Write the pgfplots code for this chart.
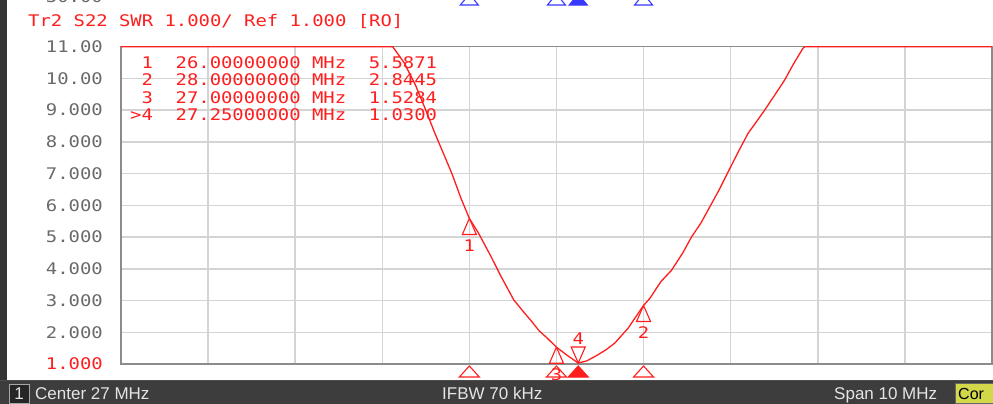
\documentclass[border=0pt]{standalone}
\usepackage{pgfplots}
\pgfplotsset{compat=1.18}
\usepackage{fontspec}
\setmainfont{Liberation Sans}
\newfontfamily\ena[FakeStretch=1.18]{DejaVu Sans Mono}
\definecolor{trc}{HTML}{FF1E1E}
\definecolor{gridc}{HTML}{D4D4D4}
\definecolor{framec}{HTML}{8C8C8C}
\definecolor{labc}{HTML}{6A6A6A}
\definecolor{barc}{HTML}{3D3D3D}
\definecolor{stripc}{HTML}{353535}
\definecolor{corc}{HTML}{D2D84A}
\definecolor{mblue}{HTML}{3838FF}
\definecolor{bartxt}{HTML}{E4E4E4}
\newcommand\enasize{\ena\fontsize{16}{18}\selectfont}
% marker on trace, apex at the point, pointing up
\pgfdeclareplotmark{mkup}{%
 \pgfpathmoveto{\pgfpoint{0pt}{0pt}}%
 \pgfpathlineto{\pgfpoint{-7pt}{-16pt}}%
 \pgfpathlineto{\pgfpoint{7pt}{-16pt}}%
 \pgfpathclose\pgfusepathqstroke}
% active marker, apex at the point, pointing down
\pgfdeclareplotmark{mkdown}{%
 \pgfpathmoveto{\pgfpoint{0pt}{0pt}}%
 \pgfpathlineto{\pgfpoint{-7pt}{16pt}}%
 \pgfpathlineto{\pgfpoint{7pt}{16pt}}%
 \pgfpathclose\pgfusepathqstroke}
% stimulus markers below the grid
\pgfdeclareplotmark{stimo}{%
 \pgfpathmoveto{\pgfpoint{0pt}{-2pt}}%
 \pgfpathlineto{\pgfpoint{-10pt}{-13pt}}%
 \pgfpathlineto{\pgfpoint{10pt}{-13pt}}%
 \pgfpathclose\pgfusepathqstroke}
\pgfdeclareplotmark{stimf}{%
 \pgfpathmoveto{\pgfpoint{0pt}{-2pt}}%
 \pgfpathlineto{\pgfpoint{-10pt}{-13pt}}%
 \pgfpathlineto{\pgfpoint{10pt}{-13pt}}%
 \pgfpathclose\pgfusepathqfillstroke}
% blue stimulus markers of the other trace (top, cut off)
\pgfdeclareplotmark{topo}{%
 \pgfpathmoveto{\pgfpoint{0pt}{11pt}}%
 \pgfpathlineto{\pgfpoint{-9pt}{0pt}}%
 \pgfpathlineto{\pgfpoint{9pt}{0pt}}%
 \pgfpathclose\pgfusepathqstroke}
\pgfdeclareplotmark{topf}{%
 \pgfpathmoveto{\pgfpoint{0pt}{11pt}}%
 \pgfpathlineto{\pgfpoint{-9pt}{0pt}}%
 \pgfpathlineto{\pgfpoint{9pt}{0pt}}%
 \pgfpathclose\pgfusepathqfillstroke}
\begin{document}
\begin{tikzpicture}[x=1pt,y=1pt]
\path[use as bounding box, clip] (0,0) rectangle (993,404);
\fill[white] (0,0) rectangle (993,404);
\begin{axis}[
  at={(121pt,40pt)}, anchor=south west,
  scale only axis, width=871pt, height=317.3pt,
  xmin=22, xmax=32, ymin=1, ymax=11,
  xtick={22,23,...,32}, ytick={1,2,...,11},
  xticklabels={},
  yticklabels={\textcolor{trc}{1.000},2.000,3.000,4.000,5.000,6.000,7.000,8.000,9.000,10.00,11.00},
  yticklabel style={font=\enasize, text=labc, anchor=east, inner sep=0pt, xshift=-18pt},
  grid=major, grid style={gridc, line width=1.5pt},
  axis line style={framec, line width=1.5pt},
  major tick length=0pt,
  clip=false,
]
% SWR trace (clipped by the analyser at 11)
\addplot[trc, line width=1.3pt] coordinates {
 (22,11) (25.12,11) (25.25,10.5) (25.38,9.8) (25.50,9.0) (25.60,8.3)
 (25.70,7.65) (25.80,7.0) (25.90,6.25) (26.00,5.5871) (26.10,5.15)
 (26.25,4.38) (26.36,3.78) (26.51,3.02) (26.62,2.65) (26.71,2.36)
 (26.80,2.05) (26.90,1.80) (27.00,1.5284) (27.13,1.26) (27.25,1.03)
 (27.35,1.10) (27.47,1.28) (27.57,1.45) (27.67,1.66) (27.82,2.12)
 (28.00,2.8445) (28.07,3.06) (28.20,3.6) (28.32,3.95) (28.45,4.5)
 (28.55,5.0) (28.66,5.45) (28.76,5.95) (28.87,6.5) (28.97,7.05)
 (29.09,7.7) (29.20,8.27) (29.30,8.65) (29.39,9.0) (29.50,9.45)
 (29.62,9.95) (29.72,10.45) (29.83,10.95) (29.85,11) (32,11)
};
% markers 1-3
\addplot[only marks, mark=mkup, trc, line width=1.1pt,
  nodes near coords, point meta=explicit symbolic,
  every node near coord/.append style={anchor=center, yshift=-27pt, font=\enasize, text=trc}]
  coordinates {(26,5.5871)[1] (28,2.8445)[2] (27,1.5284)[3]};
% active marker 4
\addplot[only marks, mark=mkdown, trc, line width=1.1pt,
  nodes near coords, point meta=explicit symbolic,
  every node near coord/.append style={anchor=center, yshift=24pt, font=\enasize, text=trc}]
  coordinates {(27.25,1.03)[4]};
% stimulus markers at bottom
\addplot[only marks, mark=stimo, trc, line width=1.1pt] coordinates {(26,1) (27,1) (28,1)};
\addplot[only marks, mark=stimf, trc, fill=trc, line width=1.1pt] coordinates {(27.25,1)};
% blue markers of the other trace at the top
\addplot[only marks, mark=topo, mblue, line width=1.1pt] coordinates {(26,12.314) (27,12.314) (28,12.314)};
\addplot[only marks, mark=topf, mblue, fill=mblue, line width=1.1pt] coordinates {(27.25,12.314)};
% reference position arrow
\fill[trc] (axis cs:22,1) ++(-2pt,0) -- ++(-10pt,9pt) -- ++(0,-18pt) -- cycle;
\end{axis}
% cut-off label of the upper pane
\node[anchor=base east, inner sep=0pt, text=labc, font=\enasize] at (103,401) {30.00};
% title line
\node[anchor=base west, inner sep=0pt, text=trc, font=\enasize] at (28,377.3) {Tr2 S22 SWR 1.000/ Ref 1.000 [RO]};
% marker table
\node[anchor=base west, inner sep=0pt, text=trc, font=\enasize] at (130,335.7) {\ 1\ \ 26.00000000 MHz\ \ 5.5871};
\node[anchor=base west, inner sep=0pt, text=trc, font=\enasize] at (130,318.2) {\ 2\ \ 28.00000000 MHz\ \ 2.8445};
\node[anchor=base west, inner sep=0pt, text=trc, font=\enasize] at (130,300.7) {\ 3\ \ 27.00000000 MHz\ \ 1.5284};
\node[anchor=base west, inner sep=0pt, text=trc, font=\enasize] at (130,283.2) {>4\ \ 27.25000000 MHz\ \ 1.0300};
% left strip and status bar
\fill[stripc] (0,0) rectangle (7,404);
\fill[barc] (0,0) rectangle (993,23.5);
\draw[black!70, line width=1pt] (0,23.5) -- (993,23.5);
\filldraw[fill=black!85, draw=gray!70, line width=0.8pt] (9,1) rectangle (29,20);
\node[anchor=base, inner sep=0pt, text=bartxt, font=\fontsize{17}{19}\selectfont] at (19,4.5) {1};
\node[anchor=base west, inner sep=0pt, text=bartxt, font=\fontsize{17}{19}\selectfont] at (35,4.5) {Center 27 MHz};
\node[anchor=base west, inner sep=0pt, text=bartxt, font=\fontsize{17}{19}\selectfont] at (442,4.5) {IFBW 70 kHz};
\node[anchor=base west, inner sep=0pt, text=bartxt, font=\fontsize{17}{19}\selectfont] at (834,4.5) {Span 10 MHz};
\filldraw[fill=corc, draw=black!60, line width=0.8pt] (955,1) rectangle (994,21);
\node[anchor=base west, inner sep=0pt, text=black, font=\fontsize{16}{18}\selectfont] at (958,4.5) {Cor};
\end{tikzpicture}
\end{document}
